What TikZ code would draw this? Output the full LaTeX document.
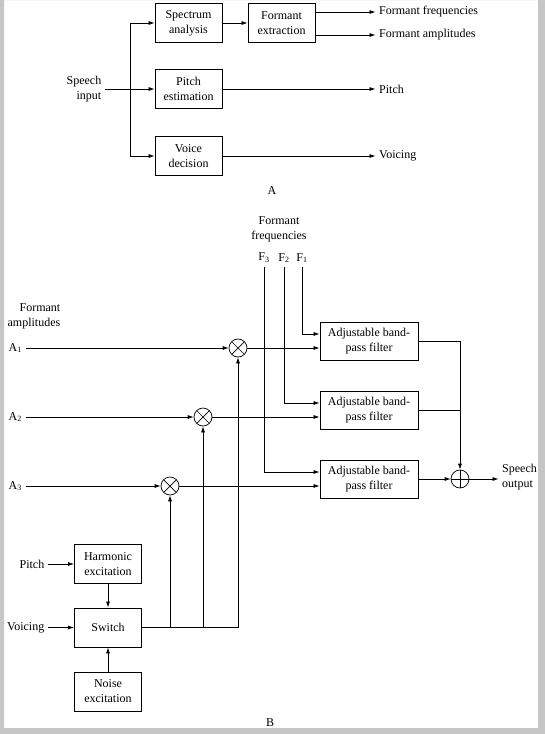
\documentclass[tikz,border=0pt]{standalone}
\usepackage{fontspec}
\setmainfont{Liberation Serif}
\usetikzlibrary{arrows.meta}

\tikzset{
	txt/.style={align=center, font=\fontsize{12}{15}\selectfont},
	block/.style={txt, draw, line width=0.9pt, minimum width=67pt, minimum height=39pt},
	bpf/.style={block, minimum width=98pt, minimum height=38pt},
	mult/.style={draw, circle, minimum size=18pt, inner sep=0pt,
		path picture={\draw (path picture bounding box.south west) -- (path picture bounding box.north east)
			(path picture bounding box.north west) -- (path picture bounding box.south east);}},
	adder/.style={draw, circle, minimum size=18pt, inner sep=0pt,
		path picture={\draw (path picture bounding box.south) -- (path picture bounding box.north)
			(path picture bounding box.west) -- (path picture bounding box.east);}},
}

\begin{document}
\begin{tikzpicture}[x=1pt, y=-1pt, line width=0.7pt, >={Latex[length=6pt,width=4pt]}]
	\useasboundingbox (0,0) rectangle (545,734);
	% A
	\node[block] (spec) at (188.5,23) {Spectrum\\analysis};
	\node[block] (fext) at (281.5,23) {Formant\\extraction};
	\node[block] (pest) at (188.5,89) {Pitch\\estimation};
	\node[block] (vdec) at (188.5,156) {Voice\\decision};
	\node[txt, align=right, anchor=east] (sin) at (105,89) {Speech\\input};
	\coordinate (br) at (130,89);
	\node[txt, anchor=west] (ff) at (375.5,12) {Formant frequencies};
	\node[txt, anchor=west] (fa) at (375.5,35) {Formant amplitudes};
	\node[txt, anchor=west] (pi) at (375.5,89) {Pitch};
	\node[txt, anchor=west] (vo) at (375.5,156) {Voicing};
	\node[txt] (lA) at (272,191) {A};
	\draw[->] (sin) -- (pest);
	\draw[->] (br) |- (spec);
	\draw[->] (br) |- (vdec);
	\draw[->] (spec) -- (fext);
	\draw[->] (fext.east |- ff) -- (ff);
	\draw[->] (fext.east |- fa) -- (fa);
	\draw[->] (pest) -- (pi);
	\draw[->] (vdec) -- (vo);
	% B
	\node[txt] (ffq) at (279,229) {Formant\\frequencies};
	\node[txt] (f3) at (264,258) {F\textsubscript{3}};
	\node[txt] (f2) at (284,258) {F\textsubscript{2}};
	\node[txt] (f1) at (302,258) {F\textsubscript{1}};
	\node[txt, align=right, anchor=east] (fam) at (64,316) {Formant\\amplitudes};
	\node[txt, anchor=west] (a1) at (5,348) {A\textsubscript{1}};
	\node[txt, anchor=west] (a2) at (5,417) {A\textsubscript{2}};
	\node[txt, anchor=west] (a3) at (5,486) {A\textsubscript{3}};
	\node[mult] (m1) at (238,348) {};
	\node[mult] (m2) at (203,417) {};
	\node[mult] (m3) at (170,486) {};
	\node[bpf] (bp1) at (369,341) {Adjustable band-\\pass filter};
	\node[bpf] (bp2) at (369,410) {Adjustable band-\\pass filter};
	\node[bpf] (bp3) at (369,479) {Adjustable band-\\pass filter};
	\node[adder] (sum) at (460,479) {};
	\node[txt, align=left, anchor=west] (sout) at (498.5,477) {Speech\\output};
	\node[block] (harm) at (108,564) {Harmonic\\excitation};
	\node[block] (sw) at (108,627.5) {Switch};
	\node[block] (noise) at (108,691.5) {Noise\\excitation};
	\node[txt, anchor=east] (pin) at (48,564) {Pitch};
	\node[txt, anchor=east] (vin) at (48,627.5) {Voicing};
	\node[txt] (lB) at (270,723) {B};
	\foreach \i in {1,2,3} {
		\draw[->] (a\i) -- (m\i);
		\draw[->] (m\i) -- (m\i -| bp\i.west);
		\draw[->] (f\i.south) |- ([yshift=7pt]bp\i.west);
		\coordinate (t\i) at (m\i |- sw);
		\draw[->] (t\i) -- (m\i);
	}
	\draw (sw) -- (t1);
	\draw[->] (bp1) -| (sum);
	\draw (bp2) -- (bp2 -| sum);
	\draw[->] (bp3) -- (sum);
	\draw[->] (sum) -- (sum -| sout.west);
	\draw[->] (pin) -- (harm);
	\draw[->] (vin) -- (sw);
	\draw[->] (harm) -- (sw);
	\draw[->] (noise) -- (sw);
	% frame
	\fill[gray!45, even odd rule] (0,0) rectangle (545,734) (4,0) rectangle (538,728);
\end{tikzpicture}
\end{document}
